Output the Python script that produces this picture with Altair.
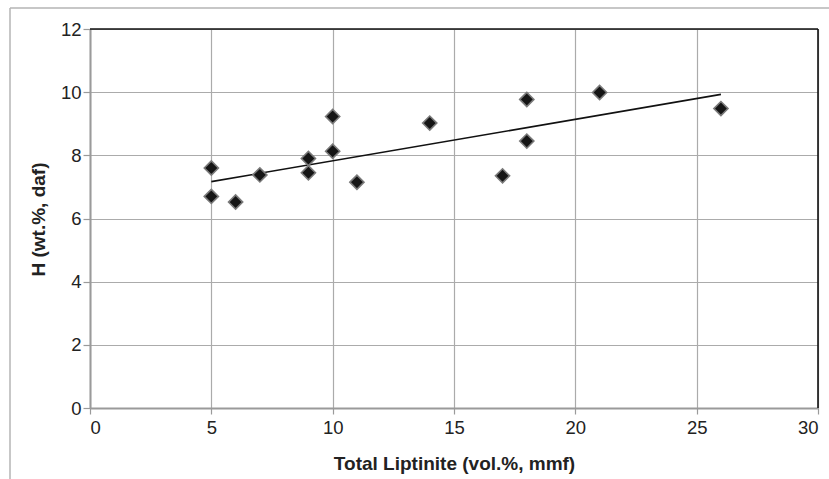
import altair as alt
import pandas as pd

liptinite = [5, 5, 6, 7, 9, 9, 10, 10, 11, 14, 17, 18, 18, 21, 26]
hydrogen = [7.60, 6.70, 6.52, 7.38, 7.90, 7.45, 9.23, 8.13, 7.15, 9.02, 7.35, 9.77, 8.45, 9.99, 9.48]

x_ticks = [0, 5, 10, 15, 20, 25, 30]
y_ticks = [0, 2, 4, 6, 8, 10, 12]

df = pd.DataFrame({"x": liptinite, "y": hydrogen})

FONT = "Liberation Sans"
GRID = "#ababab"

xscale = alt.Scale(domain=[0, 30], nice=False, zero=False)
yscale = alt.Scale(domain=[0, 12], nice=False, zero=False)

xaxis = alt.Axis(
    values=x_ticks, title="Total Liptinite (vol.%, mmf)",
    grid=True, gridColor=GRID, gridWidth=1.2,
    domainColor="#9a9a9a", domainWidth=2,
    tickColor="#9a9a9a", tickSize=6, tickWidth=1.2,
    labelFont=FONT, labelFontSize=18.5, labelColor="#222", labelPadding=4,
    titleFont=FONT, titleFontSize=19, titleFontWeight="bold", titleColor="#222",
    titleX=364, titleY=61, titleBaseline="alphabetic", titleAnchor="middle",
)
yaxis = alt.Axis(
    values=y_ticks, title="H (wt.%, daf)",
    grid=True, gridColor=GRID, gridWidth=1.2,
    domainColor="#9a9a9a", domainWidth=2,
    tickColor="#9a9a9a", tickSize=7, tickWidth=1.2,
    labelFont=FONT, labelFontSize=18.5, labelColor="#222", labelPadding=2,
    titleFont=FONT, titleFontSize=19, titleFontWeight="bold", titleColor="#222",
    titleX=-46, titleY=190, titleAngle=-90, titleBaseline="alphabetic", titleAlign="center",
)

base = alt.Chart(df)

points = base.mark_point(
    shape="diamond", filled=True, size=200, color="#151515",
    stroke="#7a7a7a", strokeWidth=1.6, opacity=1,
).encode(
    x=alt.X("x:Q", scale=xscale, axis=xaxis),
    y=alt.Y("y:Q", scale=yscale, axis=yaxis),
)

trend = base.transform_regression("x", "y").mark_line(
    color="#111", strokeWidth=1.6
).encode(x=alt.X("x:Q", scale=xscale), y=alt.Y("y:Q", scale=yscale))

border_df = pd.DataFrame({"x": [0, 30], "x2": [30, 30], "y": [12, 0], "y2": [12, 12]})
borders = alt.Chart(border_df).mark_rule(color="#111", strokeWidth=1.6).encode(
    x=alt.X("x:Q", scale=xscale), x2="x2:Q",
    y=alt.Y("y:Q", scale=yscale), y2="y2:Q",
)

frame = alt.Chart(pd.DataFrame({"k": [0]})).mark_rule(color="#b5b5b5", strokeWidth=1.5)
frame_top = frame.encode(x=alt.value(-80), x2=alt.value(760), y=alt.value(-21))
frame_left = frame.encode(x=alt.value(-80), y=alt.value(-21), y2=alt.value(460))

chart = alt.layer(frame_top, frame_left, trend, borders, points).properties(
    width=728, height=379,
    padding={"left": 90, "top": 29, "right": 11, "bottom": 71},
    autosize=alt.AutoSizeParams(type="none"),
    background="white",
).configure_view(stroke=None)

chart.save("out.html", embed_options={"renderer": "svg", "actions": False})
